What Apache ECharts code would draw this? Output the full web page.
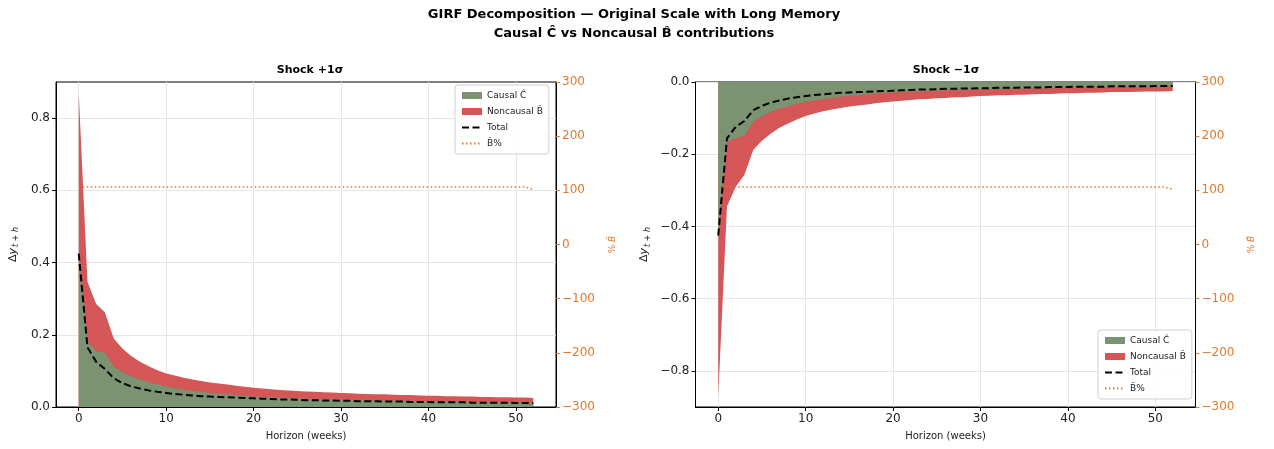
<!DOCTYPE html>
<html>
<head>
<meta charset="utf-8">
<script src="https://cdn.jsdelivr.net/npm/echarts@6/dist/echarts.min.js"></script>
<style>
  html, body { margin: 0; padding: 0; background: #fff; }
  #main { width: 1274px; height: 449px; }
</style>
</head>
<body>
<div id="main"></div>
<script>
// horizon 0..52 weeks
var horizon = [];
for (var i = 0; i <= 52; i++) horizon.push(i);

// Shock +1 sigma
var causalPos = [0.420, 0.180, 0.155, 0.150, 0.112, 0.097, 0.085, 0.076, 0.069, 0.063,
  0.057, 0.052, 0.048, 0.045, 0.042, 0.039, 0.037, 0.035, 0.033, 0.031,
  0.029, 0.028, 0.027, 0.026, 0.025, 0.024, 0.023, 0.022, 0.022, 0.021,
  0.020, 0.020, 0.019, 0.019, 0.018, 0.018, 0.017, 0.017, 0.017, 0.016,
  0.016, 0.016, 0.015, 0.015, 0.015, 0.014, 0.014, 0.014, 0.014, 0.013,
  0.013, 0.013, 0.013];
var noncausalPos = [0.450, 0.167, 0.130, 0.112, 0.078, 0.065, 0.056, 0.049, 0.044, 0.039,
  0.036, 0.035, 0.033, 0.031, 0.030, 0.029, 0.028, 0.027, 0.026, 0.025,
  0.024, 0.023, 0.022, 0.021, 0.021, 0.020, 0.020, 0.020, 0.019, 0.019,
  0.019, 0.018, 0.018, 0.017, 0.017, 0.017, 0.017, 0.016, 0.016, 0.016,
  0.015, 0.015, 0.015, 0.015, 0.014, 0.015, 0.014, 0.014, 0.013, 0.014,
  0.013, 0.013, 0.012];
var totalPos = [0.425, 0.165, 0.125, 0.105, 0.080, 0.066, 0.057, 0.051, 0.046, 0.042,
  0.039, 0.036, 0.034, 0.032, 0.030, 0.029, 0.028, 0.027, 0.026, 0.025,
  0.024, 0.023, 0.022, 0.021, 0.021, 0.020, 0.019, 0.019, 0.018, 0.018,
  0.017, 0.017, 0.016, 0.016, 0.016, 0.015, 0.015, 0.015, 0.014, 0.014,
  0.014, 0.013, 0.013, 0.013, 0.013, 0.012, 0.012, 0.012, 0.012, 0.012,
  0.011, 0.011, 0.011];
var pctPos = [106, 106, 106, 106, 106, 106, 106, 106, 106, 106,
  106, 106, 106, 106, 106, 106, 106, 106, 106, 106,
  106, 106, 106, 106, 106, 106, 106, 106, 106, 106,
  106, 106, 106, 106, 106, 106, 106, 106, 106, 106,
  106, 106, 106, 106, 106, 106, 106, 106, 106, 106,
  106, 106, 102];

// Shock -1 sigma
var causalNeg = [-0.420, -0.165, -0.156, -0.149, -0.110, -0.095, -0.083, -0.074, -0.067, -0.061,
  -0.055, -0.051, -0.047, -0.044, -0.041, -0.038, -0.036, -0.034, -0.032, -0.030,
  -0.029, -0.028, -0.027, -0.026, -0.025, -0.024, -0.023, -0.022, -0.022, -0.021,
  -0.020, -0.020, -0.019, -0.019, -0.018, -0.018, -0.017, -0.017, -0.017, -0.016,
  -0.016, -0.016, -0.015, -0.015, -0.015, -0.014, -0.014, -0.014, -0.014, -0.013,
  -0.013, -0.013, -0.013];
var noncausalNeg = [-0.450, -0.180, -0.134, -0.108, -0.078, -0.068, -0.060, -0.053, -0.048, -0.043,
  -0.039, -0.036, -0.034, -0.032, -0.031, -0.030, -0.029, -0.028, -0.027, -0.026,
  -0.025, -0.024, -0.023, -0.022, -0.022, -0.021, -0.021, -0.020, -0.020, -0.019,
  -0.019, -0.018, -0.018, -0.018, -0.017, -0.017, -0.017, -0.016, -0.016, -0.016,
  -0.015, -0.015, -0.015, -0.015, -0.014, -0.014, -0.014, -0.014, -0.013, -0.013,
  -0.013, -0.013, -0.012];
var totalNeg = [-0.425, -0.156, -0.124, -0.108, -0.078, -0.066, -0.057, -0.051, -0.046, -0.042,
  -0.039, -0.036, -0.034, -0.032, -0.030, -0.029, -0.028, -0.027, -0.026, -0.025,
  -0.024, -0.023, -0.022, -0.021, -0.021, -0.020, -0.019, -0.019, -0.018, -0.018,
  -0.017, -0.017, -0.016, -0.016, -0.016, -0.015, -0.015, -0.015, -0.014, -0.014,
  -0.014, -0.013, -0.013, -0.013, -0.013, -0.012, -0.012, -0.012, -0.012, -0.012,
  -0.011, -0.011, -0.011];
var pctNeg = [106, 106, 106, 106, 106, 106, 106, 106, 106, 106,
  106, 106, 106, 106, 106, 106, 106, 106, 106, 106,
  106, 106, 106, 106, 106, 106, 106, 106, 106, 106,
  106, 106, 106, 106, 106, 106, 106, 106, 106, 106,
  106, 106, 106, 106, 106, 106, 106, 106, 106, 106,
  106, 106, 102];

var xTicks = [0, 10, 20, 30, 40, 50];
var yTicksPos = [0, 0.2, 0.4, 0.6, 0.8];
var yTicksNeg = [-0.8, -0.6, -0.4, -0.2, 0];

var GREEN = '#7b9370';
var RED = '#d45656';
var ORANGE = '#e07a2c';
var FONT = 'DejaVu Sans';

function pairs(ys) {
  return horizon.map(function (h, i) { return [h, ys[i]]; });
}
// stackplot: noncausal layer sits on top of the causal one
function stacked(a, b) {
  return horizon.map(function (h, i) { return [h, +(a[i] + b[i]).toFixed(4)]; });
}
function minus(v) { return String(v).replace('-', '\u2212'); }

function xAxisFor(idx) {
  return {
    type: 'value', gridIndex: idx, min: -2.6, max: 54.6,
    name: 'Horizon (weeks)', nameLocation: 'middle', nameGap: 24,
    nameTextStyle: { fontFamily: FONT, fontSize: 10, color: '#222' },
    axisLine: { show: true, onZero: false, lineStyle: { color: '#000' } },
    axisTick: { show: true, length: 4, customValues: xTicks, lineStyle: { color: '#000' } },
    axisLabel: { customValues: xTicks, fontFamily: FONT, fontSize: 12, color: '#222', margin: 6 },
    splitLine: { show: true, lineStyle: { color: '#e6e6e6' } }
  };
}
function yLeft(idx, min, max, ticks, gap) {
  return {
    type: 'value', gridIndex: idx, min: min, max: max, position: 'left',
    name: '{d|\u0394}{y|y}{s|t + h}', nameLocation: 'middle', nameGap: gap, nameRotate: 90,
    nameTextStyle: {
      rich: {
        d: { fontFamily: FONT, fontSize: 11, color: '#222' },
        y: { fontFamily: FONT, fontSize: 11, fontStyle: 'italic', color: '#222' },
        s: { fontFamily: FONT, fontSize: 8, fontStyle: 'italic', color: '#222', padding: [6, 0, 0, 1] }
      }
    },
    axisLine: { show: true, onZero: false, lineStyle: { color: '#000' } },
    axisTick: { show: true, length: 4, customValues: ticks, lineStyle: { color: '#000' } },
    axisLabel: {
      customValues: ticks, fontFamily: FONT, fontSize: 12, color: '#222', margin: 6,
      formatter: function (v) { return minus(v.toFixed(1)); }
    },
    splitLine: { show: true, lineStyle: { color: '#e6e6e6' } }
  };
}
function yRight(idx) {
  return {
    type: 'value', gridIndex: idx, min: -300, max: 300, interval: 100, position: 'right',
    name: '% {b|B\u0302}', nameLocation: 'middle', nameGap: 52, nameRotate: 90,
    nameTextStyle: {
      fontFamily: FONT, fontSize: 9, color: ORANGE,
      rich: { b: { fontFamily: FONT, fontSize: 9, fontStyle: 'italic', color: ORANGE } }
    },
    axisLine: { show: true, onZero: false, lineStyle: { color: '#000' } },
    axisTick: { show: true, length: 4, lineStyle: { color: ORANGE } },
    axisLabel: {
      fontFamily: FONT, fontSize: 12, color: ORANGE, margin: 6,
      formatter: function (v) { return minus(v); }
    },
    splitLine: { show: false }
  };
}

function panelSeries(idx, causal, noncausal, total, pct) {
  return [
    {
      name: 'Noncausal B\u0302', type: 'line', xAxisIndex: idx, yAxisIndex: idx * 2,
      data: stacked(causal, noncausal), showSymbol: false, symbol: 'none',
      lineStyle: { width: 0 }, itemStyle: { color: RED },
      areaStyle: { color: RED, opacity: 1, origin: 0 }, z: 2, animation: false
    },
    {
      name: 'Causal \u0108', type: 'line', xAxisIndex: idx, yAxisIndex: idx * 2,
      data: pairs(causal), showSymbol: false, symbol: 'none',
      lineStyle: { width: 0 }, itemStyle: { color: GREEN },
      areaStyle: { color: GREEN, opacity: 1, origin: 0 }, z: 2, animation: false
    },
    {
      name: 'Total', type: 'line', xAxisIndex: idx, yAxisIndex: idx * 2,
      data: pairs(total), showSymbol: false, symbol: 'none',
      lineStyle: { color: '#000', width: 2, type: [7, 3.5] }, itemStyle: { color: '#000' },
      z: 3, animation: false
    },
    {
      name: 'B\u0302%', type: 'line', xAxisIndex: idx, yAxisIndex: idx * 2 + 1,
      data: pairs(pct), showSymbol: false, symbol: 'none',
      lineStyle: { color: ORANGE, width: 1.5, type: [1.5, 2.5] }, itemStyle: { color: ORANGE },
      z: 4, animation: false
    }
  ];
}

function legendAt(left, top) {
  return {
    left: left, top: top, orient: 'vertical', selectedMode: false,
    itemWidth: 20, itemHeight: 7, itemGap: 7,
    padding: [6, 6, 6, 6],
    backgroundColor: 'rgba(255,255,255,0.85)', borderColor: '#d0d0d0', borderWidth: 1, borderRadius: 3,
    textStyle: { fontFamily: FONT, fontSize: 9, color: '#222' },
    data: [
      { name: 'Causal \u0108', icon: 'rect' },
      { name: 'Noncausal B\u0302', icon: 'rect' },
      { name: 'Total', itemStyle: { opacity: 0 } },
      { name: 'B\u0302%', itemStyle: { opacity: 0 } }
    ]
  };
}

var chart = echarts.init(document.getElementById('main'), null, { renderer: 'canvas' });

var option = {
  animation: false,
  backgroundColor: '#fff',
  graphic: [
    { type: 'text', x: 634, y: 15, style: { text: 'GIRF Decomposition \u2014 Original Scale with Long Memory', textAlign: 'center', textVerticalAlign: 'middle', fontFamily: FONT, fontSize: 13, fontWeight: 'bold', fill: '#000' } },
    { type: 'text', x: 634, y: 34, style: { text: 'Causal \u0108 vs Noncausal B\u0302 contributions', textAlign: 'center', textVerticalAlign: 'middle', fontFamily: FONT, fontSize: 13, fontWeight: 'bold', fill: '#000' } },
    { type: 'text', x: 310, y: 70, style: { text: 'Shock +1\u03c3', textAlign: 'center', textVerticalAlign: 'middle', fontFamily: FONT, fontSize: 11, fontWeight: 'bold', fill: '#000' } },
    { type: 'text', x: 946, y: 70, style: { text: 'Shock \u22121\u03c3', textAlign: 'center', textVerticalAlign: 'middle', fontFamily: FONT, fontSize: 11, fontWeight: 'bold', fill: '#000' } }
  ],
  legend: [legendAt(455, 85), legendAt(1098, 330)],
  grid: [
    { left: 56, top: 82, width: 500, height: 325, show: true, borderColor: '#000', borderWidth: 1, backgroundColor: 'transparent' },
    { left: 695.5, top: 82, width: 500, height: 325, show: true, borderColor: '#000', borderWidth: 1, backgroundColor: 'transparent' }
  ],
  xAxis: [xAxisFor(0), xAxisFor(1)],
  yAxis: [
    yLeft(0, 0, 0.9, yTicksPos, 36),
    yRight(0),
    yLeft(1, -0.9, 0, yTicksNeg, 44),
    yRight(1)
  ],
  series: [].concat(
    panelSeries(0, causalPos, noncausalPos, totalPos, pctPos),
    panelSeries(1, causalNeg, noncausalNeg, totalNeg, pctNeg)
  )
};

chart.setOption(option);
</script>
</body>
</html>
